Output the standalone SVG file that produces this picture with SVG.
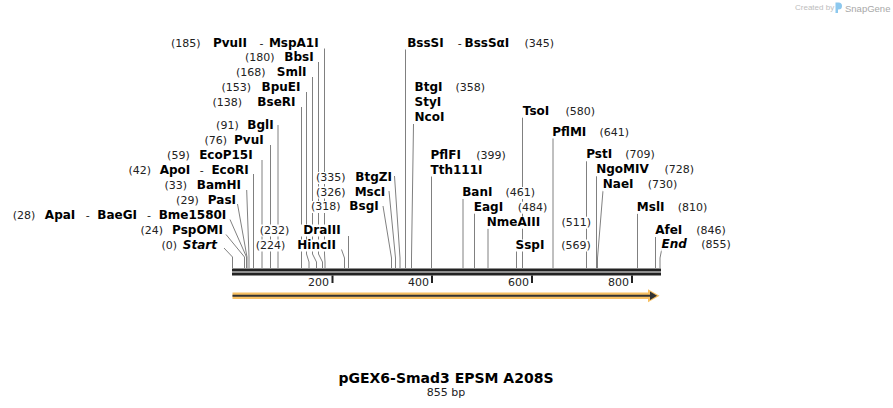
<svg xmlns="http://www.w3.org/2000/svg" width="893" height="408" viewBox="0 0 893 408">
<style>
.n{font-family:"DejaVu Sans",Verdana,sans-serif;font-size:11px;fill:#222}
.b{font-family:"DejaVu Sans",Verdana,sans-serif;font-size:12px;font-weight:bold;fill:#000}
.i{font-style:italic}
.e{text-anchor:end}
.bg{fill:#fff;height:12px}
.ln{fill:none;stroke:#808080;stroke-width:1}
.bar{fill:#222}
.t{font-family:"DejaVu Sans",Verdana,sans-serif;font-size:11px;fill:#222;text-anchor:end}
</style>
<rect width="893" height="408" fill="#fff"/>
<g id="logo">
<text x="795" y="10" style="font-family:'Liberation Sans',Arial,sans-serif;font-size:8px;fill:#bdbdbd">Created by</text>
<path d="M835.5,2.5 h3 a3.5,3.5 0 0 1 0,7 h-0.5 v3.5 h-2.5 z" fill="#8cc8ee"/>
<text x="845" y="11.5" style="font-family:'Liberation Sans',Arial,sans-serif;font-size:9.5px;fill:#a8a8a8">SnapGene</text>
</g>
<g id="connectors">
<path class="ln" d="M324.5,48.5 V254 L325,262 V268"/>
<path class="ln" d="M318.5,62 V254 L322.5,262 V268"/>
<path class="ln" d="M312.5,77 V254 L316.5,262 V268"/>
<path class="ln" d="M306.5,92 V254 L309,262 V268"/>
<path class="ln" d="M301.5,107 V268"/>
<path class="ln" d="M278,125 V268"/>
<path class="ln" d="M270.5,145 V268"/>
<path class="ln" d="M262,160 V268"/>
<path class="ln" d="M253.5,174 V268"/>
<path class="ln" d="M246.7,190 L249,257 V268"/>
<path class="ln" d="M237.5,204 L247,257 V268"/>
<path class="ln" d="M230,219.5 L246.5,257 V268"/>
<path class="ln" d="M226,234.5 L244.5,257 V268"/>
<path class="ln" d="M224,248 L232.5,257 V268"/>
<path class="ln" d="M394.5,176 L400,258 V268"/>
<path class="ln" d="M389,191 L395.5,258 V268"/>
<path class="ln" d="M383,206 L391.5,258 V268"/>
<path class="ln" d="M348.5,236 V268"/>
<path class="ln" d="M341.5,249.5 L344.5,258 V268"/>
<path class="ln" d="M405.5,49.5 V268"/>
<path class="ln" d="M413.5,124 L411.5,258 V268"/>
<path class="ln" d="M431.5,176 V268"/>
<path class="ln" d="M463,198.5 V268"/>
<path class="ln" d="M474.5,213 V268"/>
<path class="ln" d="M488,228.5 V268"/>
<path class="ln" d="M516.5,251 V268"/>
<path class="ln" d="M522.5,117.5 V268"/>
<path class="ln" d="M553,138 V268"/>
<path class="ln" d="M586.5,161 V268"/>
<path class="ln" d="M596.5,176 V268"/>
<path class="ln" d="M603,190.5 L597.5,258 V268"/>
<path class="ln" d="M637.5,213.5 V268"/>
<path class="ln" d="M655.5,237 V268"/>
<path class="ln" d="M661.7,249.5 L660,258 V268"/>
</g>
<g id="ruler">
<rect class="bar" x="232" y="268.5" width="429" height="3"/>
<rect class="bar" x="232" y="272.5" width="429" height="3"/>
<rect class="bar" x="331.5" y="275.5" width="2" height="7.5"/>
<rect class="bar" x="431" y="275.5" width="2" height="7.5"/>
<rect class="bar" x="531" y="275.5" width="2" height="7.5"/>
<rect class="bar" x="631" y="275.5" width="2" height="7.5"/>
<text class="t" x="329" y="285.7">200</text>
<text class="t" x="429" y="285.7">400</text>
<text class="t" x="529" y="285.7">600</text>
<text class="t" x="629" y="285.7">800</text>
</g>
<g id="feature">
<path d="M232.5,295.8 H651" stroke="#f8c062" stroke-width="6.5" fill="none"/>
<polygon points="648,289.3 659.5,295.8 648,302.3" fill="#f8c062"/>
<path d="M232.5,295.8 H651" stroke="#333" stroke-width="2" fill="none"/>
<polygon points="650,291.5 657,295.8 650,300.1" fill="#333"/>
</g>
<g id="n-pvuii"><rect class="bg" x="169.7" y="37.5" width="31.3"/><rect class="bg" x="208.3" y="37.5" width="39.4"/><rect class="bg" x="258.3" y="37.5" width="6"/><rect class="bg" x="268.3" y="37.5" width="51"/>
<text class="n e" x="200.5" y="46.5">(185)</text><text class="b e" x="247" y="46.5">PvuII</text><text class="n e" x="263.5" y="46.5">-</text><text class="b e" x="318.7" y="46.5">MspA1I</text></g>
<g id="n-bbsi"><rect class="bg" x="244" y="52" width="31"/><rect class="bg" x="282.3" y="52" width="32"/>
<text class="n e" x="274.5" y="61">(180)</text><text class="b e" x="313.7" y="61">BbsI</text></g>
<g id="n-smli"><rect class="bg" x="234.3" y="67" width="31.7"/><rect class="bg" x="273" y="67" width="34"/>
<text class="n e" x="265.5" y="76">(168)</text><text class="b e" x="306.5" y="76">SmlI</text></g>
<g id="n-bpuei"><rect class="bg" x="220.7" y="82" width="31"/><rect class="bg" x="259" y="82" width="42"/>
<text class="n e" x="251" y="91">(153)</text><text class="b e" x="300.5" y="91">BpuEI</text></g>
<g id="n-bseri"><rect class="bg" x="211.3" y="97" width="31.4"/><rect class="bg" x="249.7" y="97" width="46.3"/>
<text class="n e" x="242" y="106">(138)</text><text class="b e" x="295.5" y="106">BseRI</text></g>
<g id="n-bgli"><rect class="bg" x="214" y="120" width="25.3"/><rect class="bg" x="245.7" y="120" width="28.6"/>
<text class="n e" x="238.7" y="129">(91)</text><text class="b e" x="273.7" y="129">BglI</text></g>
<g id="n-pvui"><rect class="bg" x="202.3" y="135" width="25.4"/><rect class="bg" x="232.3" y="135" width="32"/>
<text class="n e" x="227" y="144">(76)</text><text class="b e" x="263.7" y="144">PvuI</text></g>
<g id="n-ecop15i"><rect class="bg" x="165.7" y="149.5" width="24.6"/><rect class="bg" x="197.3" y="149.5" width="56"/>
<text class="n e" x="189.7" y="158.5">(59)</text><text class="b e" x="252.7" y="158.5">EcoP15I</text></g>
<g id="n-apoi"><rect class="bg" x="126.7" y="164.5" width="25"/><rect class="bg" x="158.3" y="164.5" width="32.7"/><rect class="bg" x="199" y="164.5" width="5.3"/><rect class="bg" x="209" y="164.5" width="40.3"/>
<text class="n e" x="151" y="173.5">(42)</text><text class="b e" x="190.3" y="173.5">ApoI</text><text class="n e" x="203.7" y="173.5">-</text><text class="b e" x="248.7" y="173.5">EcoRI</text></g>
<g id="n-bamhi"><rect class="bg" x="162.3" y="179.5" width="25.4"/><rect class="bg" x="194" y="179.5" width="47.7"/>
<text class="n e" x="187" y="188.5">(33)</text><text class="b e" x="241" y="188.5">BamHI</text></g>
<g id="n-pasi"><rect class="bg" x="174" y="194.5" width="25.3"/><rect class="bg" x="205.7" y="194.5" width="31"/>
<text class="n e" x="198.7" y="203.5">(29)</text><text class="b e" x="236" y="203.5">PasI</text></g>
<g id="n-apai"><rect class="bg" x="9" y="209.5" width="27"/><rect class="bg" x="43.3" y="209.5" width="32.7"/><rect class="bg" x="84" y="209.5" width="6.3"/><rect class="bg" x="95.7" y="209.5" width="42"/><rect class="bg" x="145.7" y="209.5" width="6"/><rect class="bg" x="155.7" y="209.5" width="71.3"/>
<text class="n e" x="35.3" y="218.5">(28)</text><text class="b e" x="75.3" y="218.5">ApaI</text><text class="n e" x="89.7" y="218.5">-</text><text class="b e" x="137" y="218.5">BaeGI</text><text class="n e" x="151" y="218.5">-</text><text class="b e" x="226.3" y="218.5">Bme1580I</text></g>
<g id="n-pspomi"><rect class="bg" x="138.3" y="224.5" width="25.4"/><rect class="bg" x="170.7" y="224.5" width="53"/>
<text class="n e" x="163" y="233.5">(24)</text><text class="b e" x="223" y="233.5">PspOMI</text></g>
<g id="n-start"><rect class="bg" x="160" y="239.5" width="17.7"/><rect class="bg" x="182.3" y="239.5" width="35.4"/>
<text class="n e" x="177" y="248.5">(0)</text><text class="b i e" x="217" y="248.5">Start</text></g>
<g id="n-btgzi"><rect class="bg" x="314" y="172" width="32"/><rect class="bg" x="354" y="172" width="38.7"/>
<text class="n e" x="345.5" y="181">(335)</text><text class="b e" x="392" y="181">BtgZI</text></g>
<g id="n-msci"><rect class="bg" x="314" y="186.5" width="32"/><rect class="bg" x="353" y="186.5" width="33"/>
<text class="n e" x="345.5" y="195.5">(326)</text><text class="b e" x="385.3" y="195.5">MscI</text></g>
<g id="n-bsgi"><rect class="bg" x="309" y="201" width="32.5"/><rect class="bg" x="348" y="201" width="31.3"/>
<text class="n e" x="340.5" y="210">(318)</text><text class="b e" x="378.7" y="210">BsgI</text></g>
<g id="n-draiii"><rect class="bg" x="257.3" y="224.5" width="32.7"/><rect class="bg" x="296.7" y="224.5" width="44.8"/>
<text class="n e" x="289.3" y="233.5">(232)</text><text class="b e" x="340.7" y="233.5">DraIII</text></g>
<g id="n-hincii"><rect class="bg" x="254.3" y="239.5" width="31.7"/><rect class="bg" x="294" y="239.5" width="42.7"/>
<text class="n e" x="285.3" y="248.5">(224)</text><text class="b e" x="336" y="248.5">HincII</text></g>
<g id="n-bsssi"><rect class="bg" x="406.7" y="37.5" width="37.6"/><rect class="bg" x="457.3" y="37.5" width="5.4"/><rect class="bg" x="464" y="37.5" width="47"/><rect class="bg" x="524" y="37.5" width="31"/>
<text class="b" x="407.2" y="46.5">BssSI</text><text class="n" x="457.8" y="46.5">-</text><text class="b" x="464.5" y="46.5">BssSαI</text><text class="n" x="524.5" y="46.5">(345)</text></g>
<g id="n-btgi"><rect class="bg" x="414" y="82" width="30.3"/><rect class="bg" x="455" y="82" width="31"/><rect class="bg" x="414" y="97" width="28.7"/><rect class="bg" x="414" y="111.7" width="32"/>
<text class="b" x="414.5" y="91">BtgI</text><text class="n" x="455.5" y="91">(358)</text><text class="b" x="414.5" y="106">StyI</text><text class="b" x="414.5" y="120.7">NcoI</text></g>
<g id="n-tsoi"><rect class="bg" x="522.3" y="105.5" width="26.5"/><rect class="bg" x="565" y="105.5" width="31.7"/>
<text class="b" x="522.8" y="114.5">TsoI</text><text class="n" x="565.5" y="114.5">(580)</text></g>
<g id="n-pflmi"><rect class="bg" x="551.7" y="126.5" width="32.6"/><rect class="bg" x="599" y="126.5" width="32"/>
<text class="b" x="552.2" y="135.5">PflMI</text><text class="n" x="599.5" y="135.5">(641)</text></g>
<g id="n-pflfi"><rect class="bg" x="430" y="149.5" width="33.3"/><rect class="bg" x="475.7" y="149.5" width="32"/><rect class="bg" x="430" y="164.5" width="46.7"/>
<text class="b" x="430.5" y="158.5">PflFI</text><text class="n" x="476.2" y="158.5">(399)</text><text class="b" x="430.5" y="173.5">Tth111I</text></g>
<g id="n-bani"><rect class="bg" x="461.7" y="187" width="31.6"/><rect class="bg" x="505" y="187" width="33.3"/>
<text class="b" x="462.2" y="196">BanI</text><text class="n" x="505.5" y="196">(461)</text></g>
<g id="n-eagi"><rect class="bg" x="473.3" y="201.7" width="32.7"/><rect class="bg" x="517.3" y="201.7" width="30.4"/>
<text class="b" x="473.8" y="210.7">EagI</text><text class="n" x="517.8" y="210.7">(484)</text></g>
<g id="n-nmeaiii"><rect class="bg" x="486.3" y="216.7" width="61.4"/><rect class="bg" x="561" y="216.7" width="32.5"/>
<text class="b" x="486.8" y="225.7">NmeAIII</text><text class="n" x="561.5" y="225.7">(511)</text></g>
<g id="n-sspi"><rect class="bg" x="515" y="239.5" width="31.7"/><rect class="bg" x="560.7" y="239.5" width="30.3"/>
<text class="b" x="515.5" y="248.5">SspI</text><text class="n" x="561.2" y="248.5">(569)</text></g>
<g id="n-psti"><rect class="bg" x="585.7" y="149.3" width="28.6"/><rect class="bg" x="624.7" y="149.3" width="31.3"/>
<text class="b" x="586.2" y="158.3">PstI</text><text class="n" x="625.2" y="158.3">(709)</text></g>
<g id="n-ngomiv"><rect class="bg" x="595.7" y="164.3" width="54.6"/><rect class="bg" x="664" y="164.3" width="32"/>
<text class="b" x="596.2" y="173.3">NgoMIV</text><text class="n" x="664.5" y="173.3">(728)</text></g>
<g id="n-naei"><rect class="bg" x="602.3" y="179.3" width="33.7"/><rect class="bg" x="647.3" y="179.3" width="32"/>
<text class="b" x="602.8" y="188.3">NaeI</text><text class="n" x="647.8" y="188.3">(730)</text></g>
<g id="n-msli"><rect class="bg" x="636.3" y="201.7" width="30.7"/><rect class="bg" x="677.3" y="201.7" width="32"/>
<text class="b" x="636.8" y="210.7">MslI</text><text class="n" x="677.8" y="210.7">(810)</text></g>
<g id="n-afei"><rect class="bg" x="654.7" y="225" width="27"/><rect class="bg" x="695.7" y="225" width="32"/>
<text class="b" x="655.2" y="234">AfeI</text><text class="n" x="696.2" y="234">(846)</text></g>
<g id="n-end"><rect class="bg" x="661.3" y="239.3" width="26.4"/><rect class="bg" x="700.7" y="239.3" width="31"/>
<text class="b i" x="661.5" y="248.3">End</text><text class="n" x="701.2" y="248.3">(855)</text></g>
<g id="title">
<text x="446" y="383" style="font-family:'DejaVu Sans',Verdana,sans-serif;font-size:14px;font-weight:bold;fill:#000;text-anchor:middle">pGEX6-Smad3 EPSM A208S</text>
<text x="446" y="395.7" style="font-family:'DejaVu Sans',Verdana,sans-serif;font-size:11px;fill:#222;text-anchor:middle">855 bp</text>
</g>
</svg>
